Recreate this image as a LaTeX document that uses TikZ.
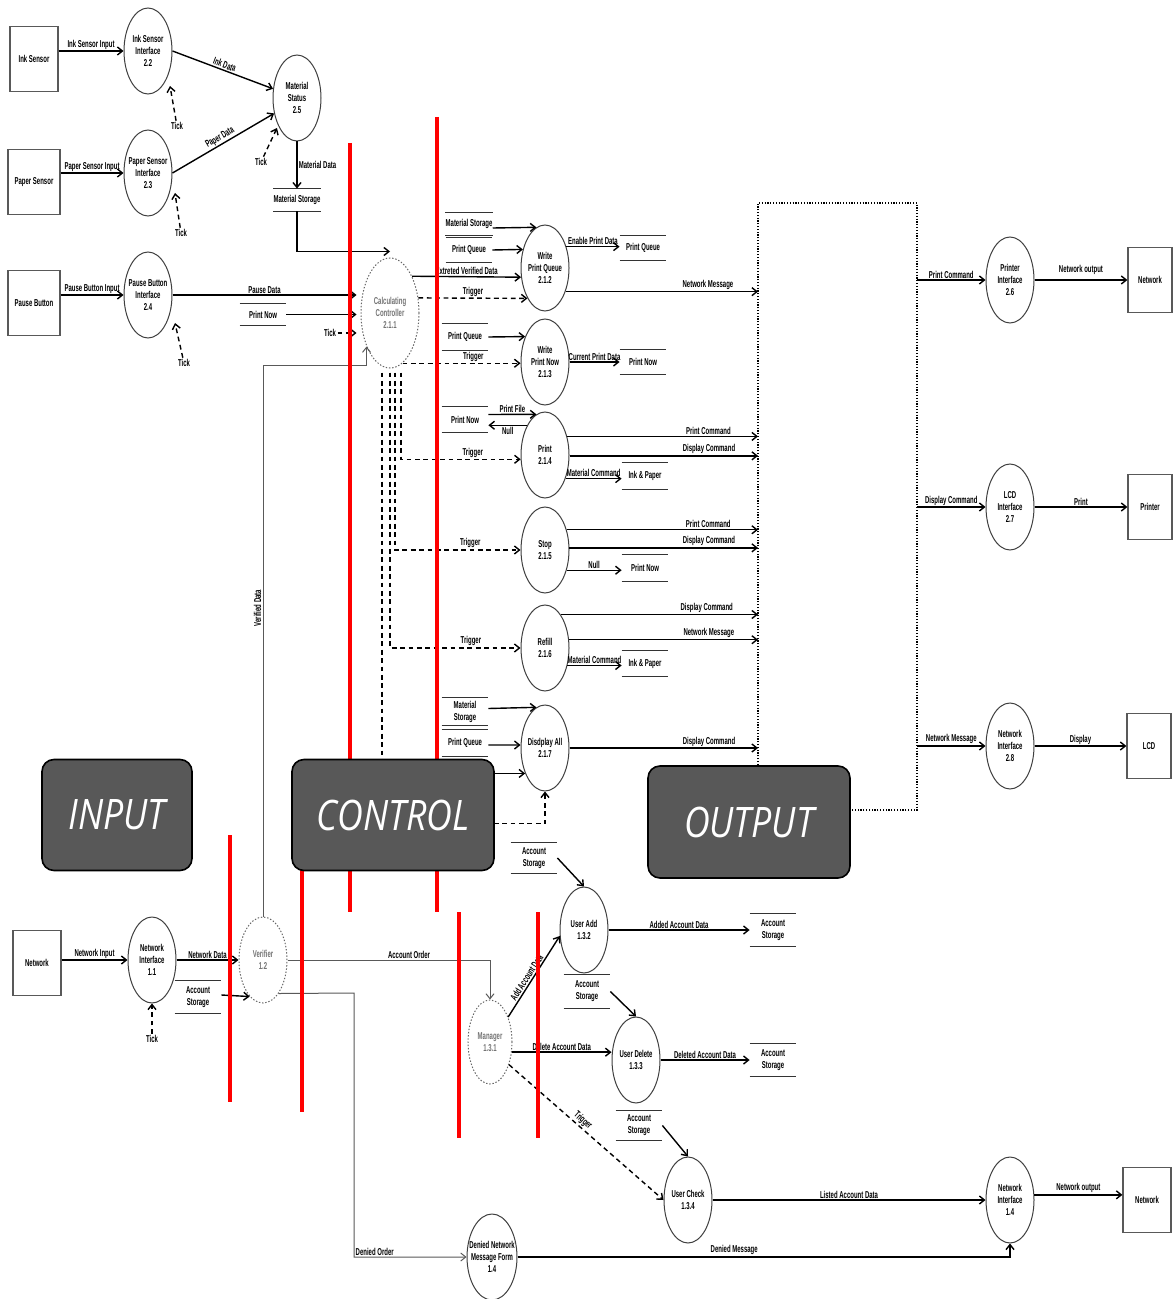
\documentclass[tikz,border=0pt]{standalone}
\usepackage{fontspec}
\newfontfamily\dfdfont{Liberation Sans}[FakeStretch=0.6]
\newfontfamily\tagfont{Open Sans}[FakeStretch=0.85]
\usepackage{tikz}
\usetikzlibrary{shapes.geometric,arrows.meta,positioning}

\definecolor{tagfill}{RGB}{88,88,88}
\newcommand{\lblfont}{\dfdfont\bfseries\fontsize{5}{6}\selectfont}
\newcommand{\dstore}[5]{%
  \node[storetext, minimum height=#4] (#1) at (#2,#3) {#5};
  \draw[storeline] (#1.north west) -- (#1.north east)
                   (#1.south west) -- (#1.south east);}

\begin{document}
\begin{tikzpicture}[
    x=0.5pt, y=-0.5pt,
    proc/.style={ellipse, draw=black!75, line width=0.5pt, minimum width=24pt,
                 minimum height=43pt, inner sep=0pt, inner xsep=-1.5pt,
                 align=center, font=\lblfont},
    ctrlproc/.style={proc, draw=black!60, dash pattern=on 0.7pt off 0.9pt, text=black!55},
    ent/.style={rectangle, draw=black!65, line width=0.6pt, minimum width=24pt,
                minimum height=32.5pt, font=\lblfont},
    storetext/.style={minimum width=23pt, inner sep=0pt, align=center, font=\lblfont},
    storeline/.style={line width=0.7pt, draw=black!80},
    flow/.style={-{Straight Barb[length=2.5pt,width=4pt]}, line width=0.7pt},
    thinflow/.style={flow, line width=0.5pt, draw=black!65},
    trig/.style={flow, dash pattern=on 2.4pt off 1.8pt},
    lbl/.style={font=\lblfont, inner sep=0.6pt},
    buslbl/.style={lbl, above, pos=0.74},
    bus/.style={line width=0.8pt, dash pattern=on 0.6pt off 0.8pt},
    redbar/.style={draw=red, line width=2pt},
    tag/.style={rectangle, rounded corners=6pt, draw=black, line width=0.8pt, fill=tagfill,
                minimum width=75pt, minimum height=55.5pt, text=white,
                font=\tagfont\itshape\fontsize{21}{24}\selectfont},
]
    \fill[white] (0,0) rectangle (1172,1299);
    \useasboundingbox (0,0) rectangle (1172,1299);

    % external entities
    \node[ent] (inksens) at (34,59) {Ink Sensor};
    \node[ent] (papsens) at (34,182) {Paper Sensor};
    \node[ent] (pausebtn) at (34,303) {Pause Button};
    \node[ent] (netin) at (37,963) {Network};
    \node[ent, minimum width=22pt] (netout) at (1150,280) {Network};
    \node[ent, minimum width=22pt] (printer) at (1150,507) {Printer};
    \node[ent, minimum width=22pt] (lcd) at (1149,746) {LCD};
    \node[ent] (netout2) at (1147,1200) {Network};

    % processes
    \node[proc] (inkif) at (148,51) {Ink Sensor\\Interface\\2.2};
    \node[proc] (papif) at (148,173) {Paper Sensor\\Interface\\2.3};
    \node[proc] (pauseif) at (148,295) {Pause Button\\Interface\\2.4};
    \node[proc] (matstat) at (297,98) {Material\\Status\\2.5};
    \node[ctrlproc, minimum width=29pt, minimum height=55pt] (ctrl) at (390,313) {Calculating\\Controller\\2.1.1};
    \node[proc] (wpq) at (545,268) {Write\\Print Queue\\2.1.2};
    \node[proc] (wpn) at (545,362) {Write\\Print Now\\2.1.3};
    \node[proc] (prt) at (545,455) {Print\\2.1.4};
    \node[proc] (stop) at (545,550) {Stop\\2.1.5};
    \node[proc] (refill) at (545,648) {Refill\\2.1.6};
    \node[proc] (dispall) at (545,748) {Disdplay All\\2.1.7};
    \node[proc] (prif) at (1010,280) {Printer\\Interface\\2.6};
    \node[proc] (lcdif) at (1010,507) {LCD\\Interface\\2.7};
    \node[proc] (netif28) at (1010,746) {Network\\Interface\\2.8};
    \node[proc] (netif11) at (152,960) {Network\\Interface\\1.1};
    \node[ctrlproc] (verif) at (263,960) {Verifier\\1.2};
    \node[ctrlproc, minimum width=22pt, minimum height=42pt] (mgr) at (490,1042) {Manager\\1.3.1};
    \node[proc] (useradd) at (584,930) {User Add\\1.3.2};
    \node[proc] (userdel) at (636,1060) {User Delete\\1.3.3};
    \node[proc] (userchk) at (688,1200) {User Check\\1.3.4};
    \node[proc] (netif14) at (1010,1200) {Network\\Interface\\1.4};
    \node[proc, inner xsep=-2.5pt] (denmsg) at (492,1257) {Denied Network\\Message Form\\1.4};

    % data stores
    \dstore{matstoreA}{297}{200}{11pt}{Material Storage}
    \dstore{pnstoreA}{263}{314.5}{10.5pt}{Print Now}
    \dstore{matstoreB}{469}{224}{11pt}{Material Storage}
    \dstore{pqstoreA}{469}{250}{12pt}{Print Queue}
    \dstore{pqstoreB}{643}{248}{12pt}{Print Queue}
    \dstore{pqstoreC}{465}{337}{13pt}{Print Queue}
    \dstore{pnstoreB}{643}{362}{12pt}{Print Now}
    \dstore{pnstoreC}{465}{419.5}{12.5pt}{Print Now}
    \dstore{inkpapA}{645}{476}{13pt}{Ink \& Paper}
    \dstore{pnstoreD}{645}{568}{13pt}{Print Now}
    \dstore{inkpapB}{645}{663.5}{12.5pt}{Ink \& Paper}
    \dstore{matstoreC}{465}{711.5}{13.5pt}{Material\\Storage}
    \dstore{pqstoreD}{465}{743}{13pt}{Print Queue}
    \dstore{accstoreA}{198}{997}{16pt}{Account\\Storage}
    \dstore{accstoreB}{534}{858}{15pt}{Account\\Storage}
    \dstore{accstoreC}{773}{930}{16pt}{Account\\Storage}
    \dstore{accstoreD}{587}{991.5}{16.5pt}{Account\\Storage}
    \dstore{accstoreE}{773}{1060}{16pt}{Account\\Storage}
    \dstore{accstoreF}{639}{1125.5}{14.5pt}{Account\\Storage}

    % output bus
    \coordinate (busTL) at (758,203);
    \coordinate (busTR) at (917,203);
    \coordinate (busBR) at (917,810);
    \coordinate (busBL) at (758,790);
    \coordinate (busEnd) at (850,810);
    \draw[bus] (busBL) -- (busTL) -- (busTR) -- (busBR) -- (busEnd);

    % sensors
    \draw[flow] (inksens.east |- inkif) -- node[lbl, above] {Ink Sensor Input} (inkif);
    \draw[flow] (papsens.east |- papif) -- node[lbl, above] {Paper Sensor Input} (papif);
    \draw[flow] (pausebtn.east |- pauseif) -- node[lbl, above] {Pause Button Input} (pauseif);
    \draw[flow] (inkif.east) -- node[lbl, above, sloped] {Ink Data} (matstat.159);
    \draw[flow] (papif.east) -- node[lbl, above, sloped] {Paper Data} (matstat.214);
    \draw[flow] (matstat.south) -- node[lbl, right] {Material Data} (matstoreA.north);
    \draw[flow] (matstoreA.south) |- ([yshift=3pt]ctrl.north);

    % ticks
    \node[lbl] (tk22) at (177,126) {Tick};
    \coordinate (tip22) at (170,86);
    \draw[trig] (tk22) -- (tip22);
    \node[lbl] (tk23) at (181,233) {Tick};
    \coordinate (tip23) at (175,193);
    \draw[trig] (tk23) -- (tip23);
    \node[lbl] (tk25) at (261,162) {Tick};
    \coordinate (tip25) at (277,128);
    \draw[trig] (tk25) -- (tip25);
    \node[lbl] (tk24) at (184,363) {Tick};
    \coordinate (tip24) at (175,323);
    \draw[trig] (tk24) -- (tip24);

    % controller inputs
    \draw[flow] (pauseif.east) -- node[lbl, above] {Pause Data} ([xshift=-2pt]ctrl.west |- pauseif);
    \draw[flow] (pnstoreA.east) -- ([xshift=-2pt]ctrl.west |- pnstoreA);
    \node[lbl] (tkc) at (330,333) {Tick};
    \draw[trig] (tkc.east) -- ([xshift=-2pt]ctrl.west |- tkc);
    \draw[thinflow] (verif.north) -- node[lbl, sloped, above, pos=0.56] {Verified Data} ++(0,-551) -| (ctrl.235);

    % write print queue
    \draw[flow] (ctrl.59) -- node[lbl, above] {Extreted Verified Data} (wpq.201);
    \draw[trig] (ctrl.28) -- node[lbl, above] {Trigger} (wpq.240);
    \draw[flow] ([yshift=-2pt]matstoreB.east) -- (wpq.102);
    \draw[flow] (pqstoreA.east) -- (wpq.140);
    \draw[flow] (wpq.45) -- node[lbl, above] {Enable Print Data} (wpq.45 -| pqstoreB.west);
    \draw[flow] (wpq.311) -- node[buslbl] {Network Message} (wpq.311 -| busTL);

    % write print now
    \draw[flow] (pqstoreC.east) -- (wpn.128);
    \draw[trig] (ctrl.284) -- node[lbl, above, pos=0.6] {Trigger} (ctrl.284 -| wpn.west);
    \draw[flow] (wpn.east) -- node[lbl, above] {Current Print Data} (wpn.east -| pnstoreB.west);

    % triggers from controller
    \draw[trig] ([shift={(5.5pt,-2pt)}]ctrl.south) |- node[lbl, above, pos=0.8] {Trigger} (prt.190);
    \draw[trig] ([shift={(2.5pt,-2pt)}]ctrl.south) |- node[lbl, above, pos=0.8] {Trigger} (stop.west);
    \draw[trig] ([shift={(0pt,-2pt)}]ctrl.south) |- node[lbl, above, pos=0.81] {Trigger} (refill.west);
    \draw[trig] ([shift={(-4pt,-2pt)}]ctrl.south) |- ([yshift=-16pt]dispall.south) -- (dispall.south);

    % print
    \draw[flow] ([yshift=2.5pt]pnstoreC.east) -- node[lbl, above] {Print File} (prt.102);
    \draw[flow] (prt.121) -- node[lbl, below] {Null} (prt.121 -| pnstoreC.east);
    \draw[flow] (prt.40) -- node[buslbl] {Print Command} (prt.40 -| busTL);
    \draw[flow] (prt.358) -- node[buslbl] {Display Command} (prt.358 -| busTL);
    \draw[flow] (prt.311) -- node[lbl, above] {Material Command} (prt.311 -| inkpapA.west);

    % stop
    \draw[flow] (stop.43) -- node[buslbl] {Print Command} (stop.43 -| busTL);
    \draw[flow] (stop.5) -- node[buslbl] {Display Command} (stop.5 -| busTL);
    \draw[flow] (stop.317) -- node[lbl, above] {Null} (stop.317 -| pnstoreD.west);

    % refill
    \draw[flow] (refill.65) -- node[buslbl] {Display Command} (refill.65 -| busTL);
    \draw[flow] (refill.19) -- node[buslbl] {Network Message} (refill.19 -| busTL);
    \draw[flow] (refill.322) -- node[lbl, above] {Material Command} (refill.322 -| inkpapB.west);

    % display all
    \draw[flow] ([yshift=1.5pt]matstoreC.east) -- (dispall.102);
    \draw[flow] ([yshift=-1pt]pqstoreD.east) -- (dispall.173);
    \draw[flow] (dispall.232 -| matstoreC.east) -- (dispall.232);
    \draw[flow] (dispall.east) -- node[buslbl] {Display Command} (dispall.east -| busTL);

    % output interfaces
    \draw[flow] (busTR |- prif) -- node[lbl, above] {Print Command} (prif);
    \draw[flow] (busTR |- lcdif) -- node[lbl, above] {Display Command} (lcdif);
    \draw[flow] (busTR |- netif28) -- node[lbl, above] {Network Message} (netif28);
    \draw[flow] (prif) -- node[lbl, above=2pt] {Network output} (netout);
    \draw[flow] (lcdif) -- node[lbl, above] {Print} (printer);
    \draw[flow] (netif28) -- node[lbl, above] {Display} (lcd);

    % network input and accounts
    \draw[flow] (netin.east |- netif11) -- node[lbl, above] {Network Input} (netif11);
    \node[lbl] (tk11) at (152,1039) {Tick};
    \draw[trig] (tk11) -- (netif11.south);
    \draw[flow] (netif11) -- node[lbl, above] {Network Data} (verif);
    \draw[flow] ([yshift=1pt]accstoreA.east) -- (verif.250);
    \draw[thinflow] (verif.east) -| node[lbl, above, pos=0.3] {Account Order} (mgr.north);
    \coordinate (denbend) at (354,993);
    \draw[thinflow] (verif.295) -- (denbend) |- node[lbl, above right, pos=0.5] {Denied Order} (denmsg);
    \draw[flow] (mgr.54) -- node[lbl, above, sloped, pos=0.45] {Add Account Data} (useradd.194);
    \draw[flow] (accstoreB.east) -- (useradd.north);
    \draw[flow] (useradd) -- node[lbl, above] {Added Account Data} (accstoreC);
    \draw[flow] (accstoreD.east) -- (userdel.north);
    \draw[flow] (mgr.335) -- node[lbl, above] {Delete Account Data} (mgr.335 -| userdel.west);
    \draw[flow] (userdel) -- node[lbl, above] {Deleted Account Data} (accstoreE);
    \draw[flow] (accstoreF.east) -- (userchk.north);
    \draw[trig] (mgr.310) -- node[lbl, above, sloped, pos=0.45] {Trigger} (userchk.west);
    \draw[flow] (userchk) -- node[lbl, above] {Listed Account Data} (netif14);
    \draw[flow] (netif14.12) -- node[lbl, above] {Network output} (netif14.12 -| netout2.west);
    \draw[flow] (denmsg) -| node[lbl, above, pos=0.22] {Denied Message} (netif14.south);

    % red boundaries
    \draw[redbar] (350,143) -- (350,912);
    \draw[redbar] (437,117) -- (437,912);
    \draw[redbar] (230,835) -- (230,1102);
    \draw[redbar] (302,860) -- (302,1112);
    \draw[redbar] (459,912) -- (459,1138);
    \draw[redbar] (538,912) -- (538,1138);

    % section tags
    \node[tag] (inputtag) at (117,815) {INPUT};
    \node[tag, minimum width=101pt] (controltag) at (393,815) {CONTROL};
    \node[tag, minimum width=101pt, minimum height=56pt] (outputtag) at (749,822) {OUTPUT};
\end{tikzpicture}
\end{document}
